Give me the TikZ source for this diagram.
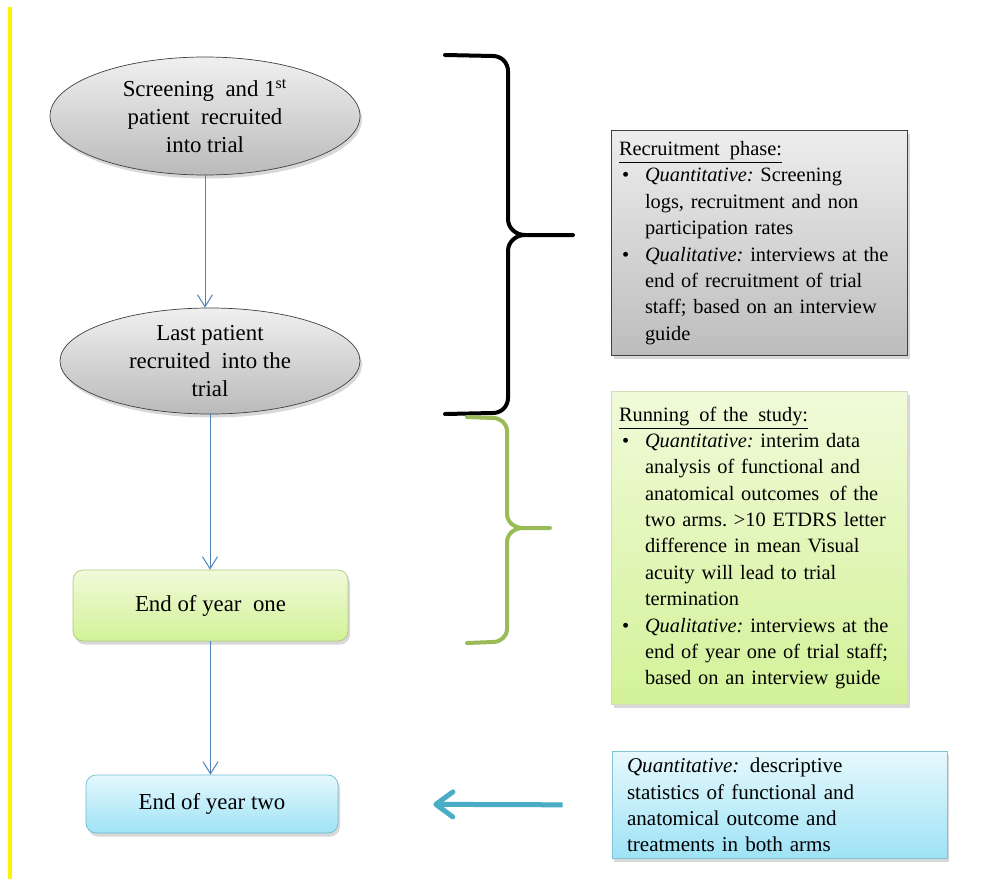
\documentclass[tikz,border=0pt]{standalone}
\usepackage{fontspec}
\setmainfont{Liberation Serif}
\usetikzlibrary{positioning,shapes.geometric,arrows.meta,shadows}
\definecolor{flowblue}{HTML}{4F81BD}
\definecolor{arrowblue}{HTML}{4BACC6}
\definecolor{olive}{HTML}{9BBB59}
\definecolor{limetop}{HTML}{F0FAD9}
\definecolor{limebot}{HTML}{D3F298}
\definecolor{skytop}{HTML}{E6F8FD}
\definecolor{skybot}{HTML}{9EE3F6}
\newcommand{\bul}{\makebox[0.52cm][l]{\hspace{0.06cm}\textbullet}}
\newcommand{\ind}{\hspace*{0.52cm}}
\tikzset{
  soft shadow/.style={drop shadow={opacity=0.3, shadow xshift=0.04cm, shadow yshift=-0.07cm}},
  oval/.style={ellipse, draw=black!75, thin, inner sep=0pt, top color=black!6, bottom color=black!27, soft shadow},
  oval text/.style={align=center, inner sep=0pt, font=\fontsize{13}{16}\selectfont},
  year box/.style={rounded corners=0.2cm, thin, align=center, soft shadow, font=\fontsize{13}{16}\selectfont},
  year one/.style={year box, draw=olive!80, top color=limetop, bottom color=limebot, minimum width=5.5cm, minimum height=1.42cm},
  year two/.style={year box, draw=arrowblue!80, top color=skytop, bottom color=skybot, minimum width=5.04cm, minimum height=1.16cm},
  phase box/.style={rectangle, align=left, inner xsep=0.15cm, inner ysep=0.05cm, soft shadow, font=\fontsize{11.6}{15}\selectfont\frenchspacing},
  flow/.style={draw=flowblue, line width=0.02cm, -{Straight Barb[length=0.24cm, width=0.3cm]}},
  bracket/.style={line width=0.08cm, line cap=round, line join=round},
  big arrow/.style={draw=arrowblue, line width=0.1cm, -{Straight Barb[length=0.34cm, width=0.5cm, round]}}
}

\begin{document}
\begin{tikzpicture}
\useasboundingbox (0,0) rectangle (19.8,-17.58);
\fill[white] (0,0) rectangle (19.8,-17.58);
\draw[yellow, line width=0.08cm] (0.2,-0.14) -- (0.2,-17.58);

% flow chart on the left
\node[oval, minimum width=6.2cm, minimum height=2.36cm] (first) at (4.1,-2.32) {};
\node[oval text] (firsttxt) at (first) {Screening\enspace and 1\textsuperscript{st}\\patient\enspace recruited\\into trial};
\node[oval, minimum width=6cm, minimum height=2.12cm] (last) at (4.2,-7.22) {};
\node[oval text] (lasttxt) at (last) {Last patient\\recruited\enspace into the\\trial};
\node[year one] (one) at (4.21,-12.11) {End of year\enspace one};
\node[year two] (two) at (4.24,-16.08) {End of year two};

\draw[flow] (first.south) -- (first.south |- last.north);
\draw[flow] (last.south) -- (last.south |- one.north);
\draw[flow] (one.south) -- (one.south |- two.north);

% braces
\draw[bracket, black] (8.9,-1.1) -- (9.86,-1.12) to[out=0,in=90] (10.16,-1.42) -- (10.16,-4.38)
  to[out=-90,in=180] (10.5,-4.7) -- (11.46,-4.7) -- (10.5,-4.7) to[out=180,in=90] (10.16,-5.02)
  -- (10.16,-7.96) to[out=-90,in=0] (9.86,-8.26) -- (8.9,-8.28);
\draw[bracket, olive] (9.34,-8.34) -- (9.86,-8.36) to[out=0,in=90] (10.14,-8.62) -- (10.14,-10.28)
  to[out=-90,in=180] (10.46,-10.56) -- (11.0,-10.56) -- (10.46,-10.56) to[out=180,in=90] (10.14,-10.84)
  -- (10.14,-12.58) to[out=-90,in=0] (9.86,-12.84) -- (9.34,-12.86);

% notes on the right
\node[phase box, draw=black!75, top color=black!7, bottom color=black!26, minimum width=5.9cm, minimum height=4.5cm, text width=5.62cm] (recruit) at (15.19,-4.86)
  {\underline{Recruitment\enspace phase:}\\
   \bul\textit{Quantitative:} Screening\\
   \ind logs, recruitment and non\\
   \ind participation rates\\
   \bul\textit{Qualitative:} interviews at the\\
   \ind end of recruitment of trial\\
   \ind staff; based on an interview\\
   \ind guide};
\node[phase box, draw=olive!45, top color=limetop, bottom color=limebot, minimum width=5.9cm, minimum height=6.26cm, text width=5.62cm] (running) at (15.19,-10.96)
  {\underline{Running\enspace of the\enspace study:}\\
   \bul\textit{Quantitative:} interim data\\
   \ind analysis of functional and\\
   \ind anatomical outcomes\enspace of the\\
   \ind two arms. >10 ETDRS letter\\
   \ind difference in mean Visual\\
   \ind acuity will lead to trial\\
   \ind termination\\
   \bul\textit{Qualitative:} interviews at the\\
   \ind end of year one of trial staff;\\
   \ind based on an interview guide};
\node[phase box, draw=arrowblue!70, top color=skytop, bottom color=skybot, inner xsep=0.3cm, minimum width=6.7cm, minimum height=2.14cm, text width=6.1cm, font=\fontsize{12}{15}\selectfont] (final) at (15.59,-16.1)
  {\textit{Quantitative:}\enspace descriptive\\
   statistics of functional and\\
   anatomical outcome and\\
   treatments in both arms};

\draw[big arrow, shorten <=0.98cm, shorten >=1.9cm] (final.west) -- (two.east);
\end{tikzpicture}
\end{document}
